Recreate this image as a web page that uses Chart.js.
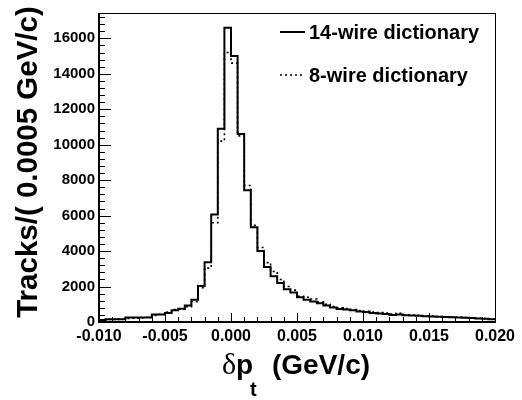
<!DOCTYPE html>
<html>
<head>
<meta charset="utf-8">
<script src="https://cdn.jsdelivr.net/npm/chart.js@4/dist/chart.umd.min.js"></script>
<style>
    html, body { margin: 0; padding: 0; background: #fff; }
    #wrap { width: 522px; height: 400px; position: relative; }
</style>
</head>
<body>
<div id="wrap"><canvas id="chart"></canvas></div>
<script>
// histogram binning: 60 bins of 0.0005 GeV/c starting at -0.010
const binLow = -0.010;
const binWidth = 0.0005;

const wire14 = [
    110, 160, 160, 160, 260, 260, 260, 260, 420, 420,
    510, 660, 750, 930, 1250, 2030, 3370, 6060, 10900, 16600,
    15000, 10600, 7430, 5350, 4000, 3100, 2580, 2200, 1850, 1670,
    1390, 1250, 1150, 1060, 930, 820, 730, 700, 660, 590,
    560, 510, 480, 450, 400, 420, 380, 370, 350, 330,
    310, 300, 280, 270, 250, 240, 220, 200, 180, 160,
];

const wire8 = [
    120, 140, 150, 170, 200, 220, 240, 270, 370, 430,
    560, 700, 720, 860, 1150, 1940, 3040, 5600, 10200, 15200,
    14600, 10500, 7700, 5450, 4200, 3350, 2850, 2400, 2000, 1800,
    1450, 1400, 1300, 1120, 1000, 870, 800, 760, 700, 650,
    600, 560, 540, 500, 450, 490, 410, 390, 380, 350,
    330, 310, 300, 280, 270, 250, 230, 210, 190, 160,
];

const seriesLabels = ['14-wire dictionary', '8-wire dictionary'];
const xTickValues = [-0.010, -0.005, 0.000, 0.005, 0.010, 0.015, 0.020];
const yTickValues = [0, 2000, 4000, 6000, 8000, 10000, 12000, 14000, 16000];
const xMinorStep = 0.001;
const yMinorStep = 400;
const yMax = 17430;

function toSteps(values) {
    const pts = values.map((v, i) => ({ x: binLow + i * binWidth, y: v }));
    pts.push({ x: binLow + values.length * binWidth, y: values[values.length - 1] });
    return pts;
}

const FONT = 'Liberation Sans, Arial, Helvetica, sans-serif';

const rootFrame = {
    id: 'rootFrame',
    afterDraw(chart) {
        const { ctx, chartArea: a, scales: { x, y } } = chart;
        ctx.save();
        ctx.strokeStyle = '#000';

        // inward tick marks
        ctx.lineWidth = 1;
        ctx.beginPath();
        for (let v = 0; v <= yMax; v += yMinorStep) {
            const py = Math.round(y.getPixelForValue(v)) + 0.5;
            const len = v % 2000 === 0 ? 12 : 6;
            ctx.moveTo(a.left, py);
            ctx.lineTo(a.left + len, py);
        }
        const nx = Math.round((x.max - x.min) / xMinorStep);
        for (let i = 0; i <= nx; i++) {
            const v = x.min + i * xMinorStep;
            const px = Math.round(x.getPixelForValue(v)) + 0.5;
            const len = i % 5 === 0 ? 9 : 5;
            ctx.moveTo(px, a.bottom);
            ctx.lineTo(px, a.bottom - len);
        }
        ctx.stroke();

        // frame
        ctx.lineWidth = 1;
        ctx.strokeRect(a.left + 0.5, a.top + 0.5, a.right - a.left, a.bottom - a.top);
        ctx.lineWidth = 2;
        ctx.beginPath();
        ctx.moveTo(a.left, a.top);
        ctx.lineTo(a.left, a.bottom);
        ctx.lineTo(a.right, a.bottom);
        ctx.stroke();

        // axis titles
        ctx.fillStyle = '#000';
        ctx.textBaseline = 'alphabetic';
        ctx.save();
        ctx.translate(37, 162);
        ctx.rotate(-Math.PI / 2);
        ctx.textAlign = 'center';
        ctx.font = 'bold 29.5px ' + FONT;
        ctx.fillText('Tracks/( 0.0005 GeV/c)', 0, 0);
        ctx.restore();

        ctx.textAlign = 'left';
        ctx.font = '30px Liberation Serif, DejaVu Serif, serif';
        ctx.fillText('δ', 222, 374);
        ctx.font = 'bold 28px ' + FONT;
        ctx.fillText('p', 236, 374);
        ctx.font = 'bold 20px ' + FONT;
        ctx.fillText('t', 250, 396);
        ctx.font = 'bold 28px ' + FONT;
        ctx.fillText('(GeV/c)', 272, 374);

        // legend
        const rows = [32, 75];
        chart.data.datasets.forEach((ds, i) => {
            ctx.save();
            ctx.lineWidth = ds.borderWidth;
            ctx.setLineDash(ds.borderDash || []);
            ctx.beginPath();
            ctx.moveTo(280, rows[i]);
            ctx.lineTo(305, rows[i]);
            ctx.stroke();
            ctx.restore();
            ctx.font = 'bold 20px ' + FONT;
            ctx.textBaseline = 'middle';
            ctx.fillText(ds.label, 309, rows[i] + 1);
        });
        ctx.restore();
    },
};

new Chart(document.getElementById('chart'), {
    type: 'line',
    data: {
        datasets: [
            {
                label: seriesLabels[0],
                data: toSteps(wire14),
                stepped: true,
                borderColor: '#000',
                borderWidth: 2,
                pointRadius: 0,
                fill: false,
            },
            {
                label: seriesLabels[1],
                data: toSteps(wire8),
                stepped: true,
                borderColor: '#000',
                borderWidth: 1.6,
                borderDash: [2, 3],
                pointRadius: 0,
                fill: false,
            },
        ],
    },
    options: {
        responsive: true,
        maintainAspectRatio: false,
        animation: false,
        layout: { padding: { top: 5, right: 27, left: 0, bottom: 0 } },
        plugins: {
            legend: { display: false },
            tooltip: { enabled: false },
        },
        scales: {
            x: {
                type: 'linear',
                min: -0.010,
                max: 0.020,
                afterBuildTicks: (s) => { s.ticks = xTickValues.map((v) => ({ value: v })); },
                afterFit: (s) => { s.height = 78; },
                grid: { display: false, drawTicks: false },
                border: { display: false },
                ticks: {
                    padding: 5,
                    color: '#000',
                    maxRotation: 0,
                    autoSkip: false,
                    font: { family: FONT, weight: 'bold', size: 16 },
                    callback: (v) => Number(v).toFixed(3),
                },
            },
            y: {
                type: 'linear',
                min: 0,
                max: yMax,
                afterBuildTicks: (s) => { s.ticks = yTickValues.map((v) => ({ value: v })); },
                afterFit: (s) => { s.width = 99; },
                grid: { display: false, drawTicks: false },
                border: { display: false },
                ticks: {
                    padding: 4,
                    color: '#000',
                    autoSkip: false,
                    font: { family: FONT, weight: 'bold', size: 15 },
                    callback: (v) => String(v),
                },
            },
        },
    },
    plugins: [rootFrame],
});
</script>
</body>
</html>
